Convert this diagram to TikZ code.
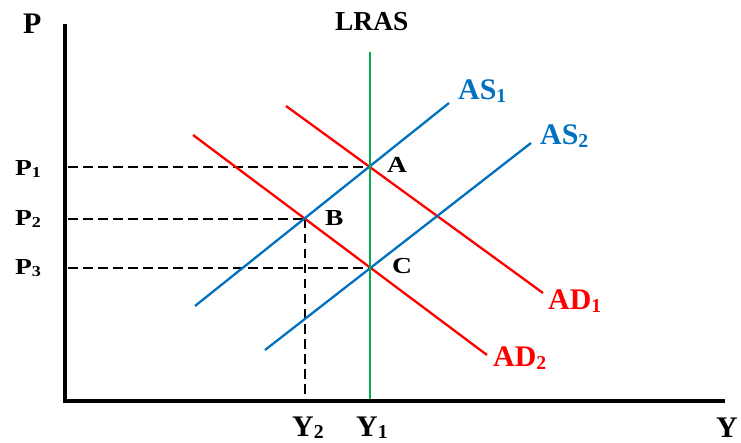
\documentclass[tikz,border=0pt]{standalone}
\usepackage{fontspec}
\setmainfont{Liberation Serif}
\definecolor{adred}{HTML}{FF0000}
\definecolor{asblue}{HTML}{0070C0}
\definecolor{lrgreen}{HTML}{00B050}
\newcommand{\mysub}[1]{\raisebox{-0.08em}{\scalebox{0.66}{#1}}}
\newcommand{\mywide}[1]{\scalebox{1.2}[1]{#1}}
\begin{document}
\begin{tikzpicture}[x=1bp,y=-1bp,
  biglbl/.style={font=\fontsize{30}{30}\selectfont\bfseries, inner sep=0pt, anchor=base west},
  midlbl/.style={font=\fontsize{27.5}{27.5}\selectfont\bfseries, inner sep=0pt, anchor=base west},
  smalllbl/.style={font=\fontsize{23}{23}\selectfont\bfseries, inner sep=0pt, anchor=base west},
  axisline/.style={line width=4.5bp, black},
  guide/.style={line width=2.8bp, black, dash pattern=on 9.5bp off 5.5bp},
  adline/.style={line width=2.3bp, adred},
  asline/.style={line width=2.3bp, asblue},
  lrline/.style={line width=2.5bp, lrgreen}]
\useasboundingbox (0,0) rectangle (741,443);
% key points
\coordinate (A) at (370,167);
\coordinate (B) at (305,219);
\coordinate (C) at (370,268);
\coordinate (p1) at (68,167);
\coordinate (p2) at (68,219);
\coordinate (p3) at (68,268);
\coordinate (y2) at (305,399);
\coordinate (lrtop) at (370,52);
\coordinate (lrbot) at (370,399);
\coordinate (as1a) at (195,306);
\coordinate (as1b) at (449,103);
\coordinate (as2a) at (265,350);
\coordinate (as2b) at (531,143);
\coordinate (ad1a) at (286,106);
\coordinate (ad1b) at (543,293);
\coordinate (ad2a) at (193,135);
\coordinate (ad2b) at (487,355);
\coordinate (ybot) at (65,403);
\coordinate (ytop) at (65,24);
\coordinate (xstart) at (63,401);
\coordinate (xend) at (725,401);
% guides
\draw[guide] (p1) -- (A);
\draw[guide] (p2) -- (B);
\draw[guide] (p3) -- (C);
\draw[guide] (B) -- (y2);
% curves
\draw[adline] (ad1a) -- (ad1b);
\draw[adline] (ad2a) -- (ad2b);
\draw[asline] (as1a) -- (as1b);
\draw[asline] (as2a) -- (as2b);
\draw[lrline] (lrtop) -- (lrbot);
% axes
\draw[axisline] (ytop) -- (ybot);
\draw[axisline] (xstart) -- (xend);
% labels
\node[biglbl] (lP) at (23,34) {P};
\node[midlbl] (lLRAS) at (335,31) {LRAS};
\node[smalllbl] (lP1) at (15,176) {\mywide{P\mysub{1}}};
\node[smalllbl] (lP2) at (15,226) {\mywide{P\mysub{2}}};
\node[smalllbl] (lP3) at (15,275) {\mywide{P\mysub{3}}};
\node[smalllbl] (lA) at (387,173) {\mywide{A}};
\node[smalllbl] (lB) at (325,226) {\mywide{B}};
\node[smalllbl] (lC) at (392,274) {\mywide{C}};
\node[biglbl, text=asblue] (lAS1) at (458,100) {AS\mysub{1}};
\node[biglbl, text=asblue] (lAS2) at (540,145) {AS\mysub{2}};
\node[biglbl, text=adred] (lAD1) at (548,310) {AD\mysub{1}};
\node[biglbl, text=adred] (lAD2) at (493,367) {AD\mysub{2}};
\node[biglbl] (lY2) at (292,436) {Y\mysub{2}};
\node[biglbl] (lY1) at (356,436) {Y\mysub{1}};
\node[biglbl] (lY) at (716,437) {Y};
\end{tikzpicture}
\end{document}
